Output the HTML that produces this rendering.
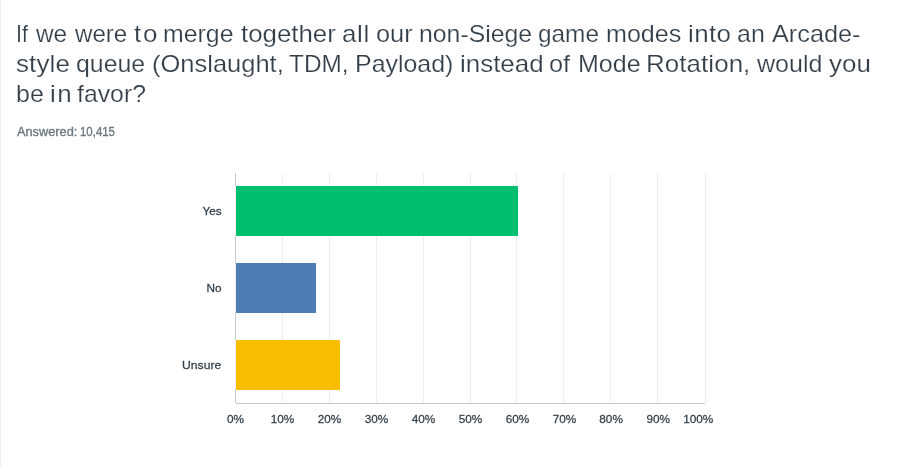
<!DOCTYPE html>
<html lang="en"><head><meta charset="utf-8"><title>Survey result</title>
<style>
html,body{margin:0;padding:0;background:#fff;}
body{width:898px;height:466px;position:relative;overflow:hidden;font-family:"Liberation Sans",Arial,sans-serif;}
.edge{position:absolute;left:0;top:0;width:1px;height:466px;background:#edeeee;}
h1{margin:0;font-weight:400;font-size:24px;line-height:30px;color:#333e48;-webkit-text-stroke:0.2px #fff;}
.ln{position:absolute;display:block;left:0;height:30px;width:898px;white-space:nowrap;}
.ln span{position:absolute;top:0;display:block;transform-origin:0 0;white-space:nowrap;}
.ans{position:absolute;left:0;top:122.5px;font-size:12.5px;line-height:18px;color:#6b787f;white-space:nowrap;-webkit-text-stroke:0.35px #6b787f;}
.ans span{position:absolute;top:0;display:block;transform-origin:0 0;}
svg{position:absolute;left:0;top:0;}
svg text{font-family:"Liberation Sans",Arial,sans-serif;font-size:11px;fill:#333e48;stroke:#333e48;stroke-width:0.25px;}
</style></head>
<body>
<div class="edge"></div>
<h1>
<span class="ln" style="top:18.68px"><span style="left:15.98px;transform:scaleX(0.8989)">If</span> <span style="left:36.3px;transform:scaleX(1.016)">we</span> <span style="left:74.6px;transform:scaleX(1.0039)">were</span> <span style="left:133.6px;transform:scaleX(1.08);letter-spacing:1.56px">to</span> <span style="left:163.12px;transform:scaleX(1.0356)">merge</span> <span style="left:240.9px;transform:scaleX(1.0762)">together</span> <span style="left:342.22px;transform:scaleX(1.08);letter-spacing:0.655px">all</span> <span style="left:375.54px;transform:scaleX(1.0556)">our</span> <span style="left:418.82px;transform:scaleX(1.0333)">non-Siege</span> <span style="left:537.98px;transform:scaleX(1.0155)">game</span> <span style="left:605.8px;transform:scaleX(1.046)">modes</span> <span style="left:687.94px;transform:scaleX(1.08);letter-spacing:0.377px">into</span> <span style="left:737.26px;transform:scaleX(1.0404)">an</span> <span style="left:772.37px;transform:scaleX(1.0522)">Arcade-</span></span>
<span class="ln" style="top:48.68px"><span style="left:16.19px;transform:scaleX(1.08);letter-spacing:0.139px">style</span> <span style="left:76.16px;transform:scaleX(1.0352)">queue</span> <span style="left:152.21px;transform:scaleX(1.0617)">(Onslaught,</span> <span style="left:289.29px;transform:scaleX(1.0161)">TDM,</span> <span style="left:355.42px;transform:scaleX(1.0389)">Payload)</span> <span style="left:459.74px;transform:scaleX(1.08);letter-spacing:0.002px">instead</span> <span style="left:548.94px;transform:scaleX(1.0579)">of</span> <span style="left:577.52px;transform:scaleX(1.0421)">Mode</span> <span style="left:646.04px;transform:scaleX(1.08);letter-spacing:0.067px">Rotation,</span> <span style="left:756.9px;transform:scaleX(1.0454)">would</span> <span style="left:829.46px;transform:scaleX(1.08);letter-spacing:0.065px">you</span></span>
<span class="ln" style="top:78.68px"><span style="left:15.94px;transform:scaleX(1.0404)">be</span> <span style="left:49.54px;transform:scaleX(1.08);letter-spacing:1.444px">in</span> <span style="left:77.31px;transform:scaleX(1.034)">favor?</span></span>
</h1>
<div class="ans"><span style="left:17.3px;transform:scaleX(1.021)">Answered:</span> <span style="left:80.2px;transform:scaleX(0.915)">10,415</span></div>
<svg width="898" height="466" viewBox="0 0 898 466">
<g shape-rendering="crispEdges">
<g fill="#edeeee"><rect x="282" y="173" width="1" height="230"/><rect x="329" y="173" width="1" height="230"/><rect x="376" y="173" width="1" height="230"/><rect x="423" y="173" width="1" height="230"/><rect x="470" y="173" width="1" height="230"/><rect x="516" y="173" width="1" height="230"/><rect x="563" y="173" width="1" height="230"/><rect x="610" y="173" width="1" height="230"/><rect x="657" y="173" width="1" height="230"/><rect x="705" y="173" width="1" height="230"/></g>
<rect x="235" y="173" width="1" height="230" fill="#c8c8c8"/>
<rect x="236" y="403" width="469" height="1" fill="#c8c8c8"/>
<g fill="#f7eef0"><rect x="235" y="186" width="1" height="50"/><rect x="235" y="263" width="1" height="50"/><rect x="235" y="340" width="1" height="50"/></g>
<rect x="236" y="186" width="282" height="50" fill="#00bf6f"/>
<rect x="236" y="263" width="80" height="50" fill="#507cb6"/>
<rect x="236" y="340" width="104" height="50" fill="#f9be00"/>
</g>
<g text-anchor="end"><text transform="translate(221.6,215) scale(1.07,1)">Yes</text><text transform="translate(221.6,292) scale(1.07,1)">No</text><text transform="translate(221.2,369) scale(1.105,1)">Unsure</text></g>
<g text-anchor="middle"><text transform="translate(235.5,423) scale(1.07,1)">0%</text><text transform="translate(282.5,423) scale(1.07,1)">10%</text><text transform="translate(329.5,423) scale(1.07,1)">20%</text><text transform="translate(376.5,423) scale(1.07,1)">30%</text><text transform="translate(423.5,423) scale(1.07,1)">40%</text><text transform="translate(470.5,423) scale(1.07,1)">50%</text><text transform="translate(517.5,423) scale(1.07,1)">60%</text><text transform="translate(564.4,423) scale(1.07,1)">70%</text><text transform="translate(611.1,423) scale(1.07,1)">80%</text><text transform="translate(658.2,423) scale(1.07,1)">90%</text><text transform="translate(698.2,423) scale(1.07,1)">100%</text></g>
</svg>
</body></html>
